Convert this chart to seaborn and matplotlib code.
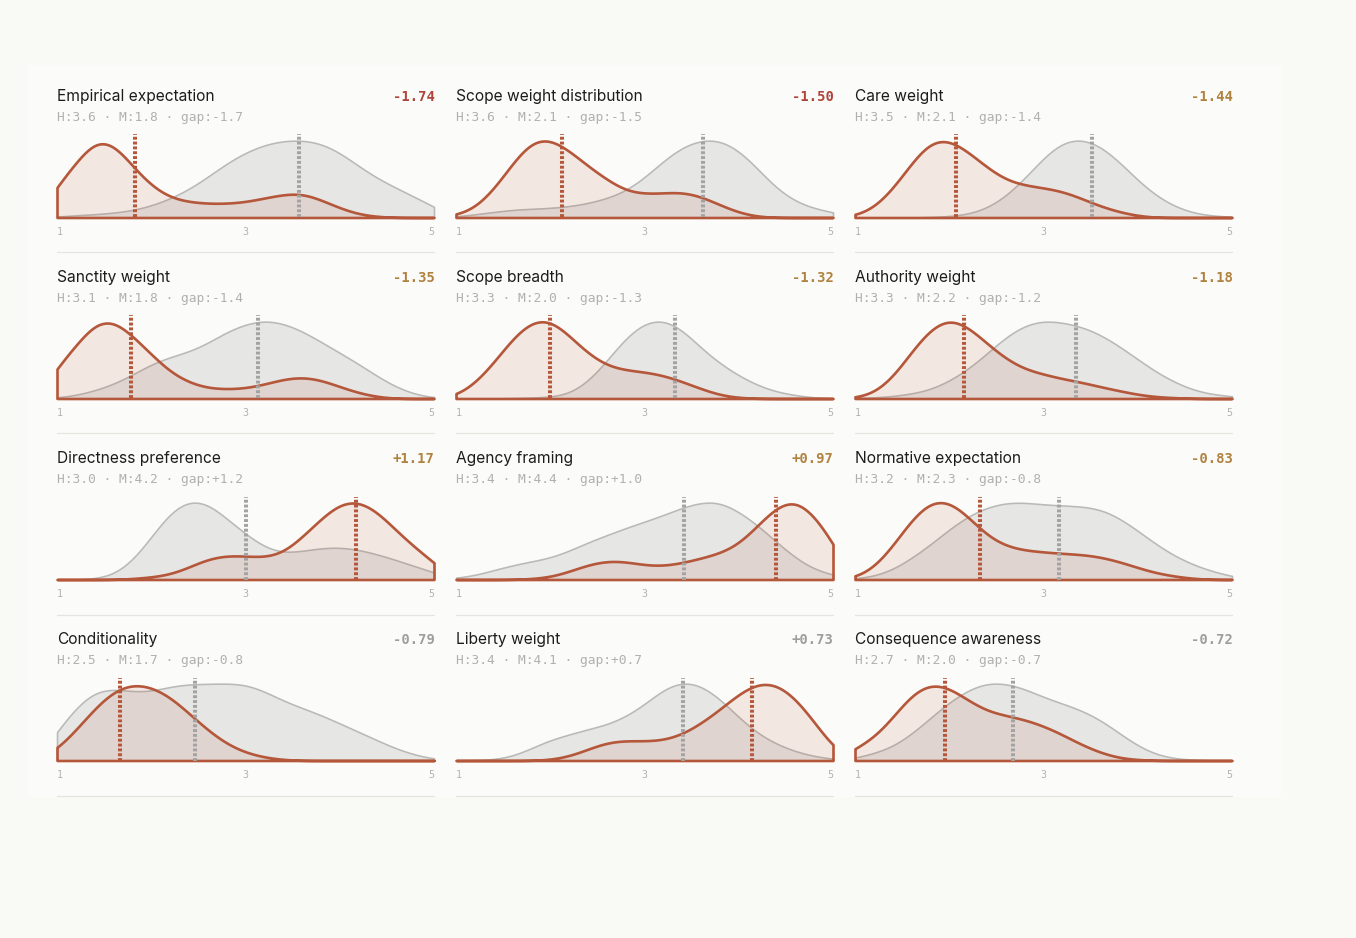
import numpy as np
import pandas as pd
import matplotlib
matplotlib.use("Agg")
import matplotlib.pyplot as plt
from matplotlib.lines import Line2D
from matplotlib.patches import Rectangle
import seaborn as sns

# ---------------------------------------------------------------- data
titles = ["Empirical expectation", "Scope weight distribution", "Care weight",
          "Sanctity weight", "Scope breadth", "Authority weight",
          "Directness preference", "Agency framing", "Normative expectation",
          "Conditionality", "Liberty weight", "Consequence awareness"]
human_means = [3.57, 3.62, 3.51, 3.13, 3.32, 3.34, 3.00, 3.42, 3.16, 2.46, 3.41, 2.68]
model_means = [1.83, 2.12, 2.07, 1.78, 2.00, 2.16, 4.17, 4.39, 2.33, 1.67, 4.14, 1.96]
gaps = [-1.74, -1.50, -1.44, -1.35, -1.32, -1.18, 1.17, 0.97, -0.83, -0.79, 0.73, -0.72]

# rating positions at which the density heights were read (1..5)
rating_grid = [1.0, 1.2, 1.4, 1.6, 1.8, 2.0, 2.2, 2.4, 2.6, 2.8, 3.0,
               3.2, 3.4, 3.6, 3.8, 4.0, 4.2, 4.4, 4.6, 4.8, 5.0]
tick_values = [1, 3, 5]
tick_labels = ["1", "3", "5"]

# relative density heights (peak = 1), human vs model
human_empirical = [0.01, 0.03, 0.04, 0.06, 0.09, 0.15, 0.24, 0.36, 0.52, 0.70, 0.84, 0.94, 0.99, 1.00, 0.96, 0.84, 0.66, 0.50, 0.38, 0.26, 0.14]
model_empirical = [0.41, 0.70, 1.02, 0.97, 0.66, 0.40, 0.25, 0.20, 0.18, 0.18, 0.20, 0.25, 0.30, 0.32, 0.23, 0.12, 0.04, 0.01, 0, 0, 0]
human_scope_dist = [0.01, 0.04, 0.07, 0.10, 0.11, 0.12, 0.14, 0.18, 0.24, 0.33, 0.50, 0.72, 0.90, 0.99, 0.99, 0.86, 0.62, 0.36, 0.20, 0.11, 0.07]
model_scope_dist = [0.03, 0.11, 0.35, 0.69, 0.99, 1.01, 0.85, 0.65, 0.48, 0.33, 0.30, 0.31, 0.33, 0.27, 0.16, 0.06, 0.01, 0, 0, 0, 0]
human_care = [0, 0, 0, 0, 0.005, 0.015, 0.04, 0.11, 0.26, 0.48, 0.75, 0.95, 0.99, 0.90, 0.70, 0.46, 0.26, 0.13, 0.05, 0.02, 0.01]
model_care = [0.02, 0.11, 0.35, 0.68, 0.97, 0.98, 0.82, 0.62, 0.46, 0.40, 0.37, 0.33, 0.24, 0.14, 0.07, 0.02, 0, 0, 0, 0, 0]
human_sanctity = [0.01, 0.04, 0.10, 0.18, 0.30, 0.44, 0.53, 0.59, 0.70, 0.85, 0.95, 1.00, 0.96, 0.86, 0.72, 0.58, 0.44, 0.28, 0.14, 0.05, 0.01]
model_sanctity = [0.40, 0.67, 0.98, 1.01, 0.80, 0.56, 0.33, 0.20, 0.13, 0.12, 0.13, 0.18, 0.25, 0.28, 0.24, 0.15, 0.07, 0.02, 0, 0, 0]
human_scope_breadth = [0, 0, 0, 0.005, 0.01, 0.02, 0.05, 0.20, 0.46, 0.76, 0.95, 0.99, 0.86, 0.62, 0.43, 0.28, 0.16, 0.08, 0.04, 0.01, 0]
model_scope_breadth = [0.03, 0.18, 0.44, 0.75, 0.97, 0.99, 0.78, 0.55, 0.40, 0.35, 0.33, 0.29, 0.21, 0.12, 0.04, 0.01, 0, 0, 0, 0, 0]
human_authority = [0.01, 0.01, 0.03, 0.06, 0.11, 0.22, 0.37, 0.57, 0.79, 0.94, 1.00, 0.97, 0.92, 0.82, 0.67, 0.50, 0.33, 0.20, 0.10, 0.05, 0.03]
model_authority = [0.01, 0.06, 0.26, 0.60, 0.90, 1.04, 0.92, 0.70, 0.50, 0.37, 0.31, 0.25, 0.21, 0.15, 0.10, 0.05, 0.02, 0.01, 0, 0, 0]
human_directness = [0, 0, 0.01, 0.05, 0.22, 0.52, 0.84, 0.99, 0.95, 0.75, 0.56, 0.39, 0.32, 0.35, 0.39, 0.40, 0.37, 0.31, 0.24, 0.16, 0.09]
model_directness = [0, 0, 0, 0, 0.01, 0.03, 0.06, 0.15, 0.26, 0.30, 0.29, 0.27, 0.32, 0.52, 0.75, 0.95, 0.98, 0.84, 0.60, 0.39, 0.21]
human_agency = [0.02, 0.05, 0.12, 0.18, 0.23, 0.27, 0.36, 0.47, 0.56, 0.65, 0.73, 0.81, 0.91, 0.98, 0.99, 0.86, 0.69, 0.47, 0.27, 0.12, 0.06]
model_agency = [0, 0, 0, 0, 0.01, 0.03, 0.10, 0.19, 0.24, 0.23, 0.18, 0.17, 0.21, 0.27, 0.33, 0.44, 0.68, 0.93, 1.03, 0.82, 0.47]
human_normative = [0.01, 0.04, 0.12, 0.27, 0.44, 0.64, 0.81, 0.92, 0.98, 0.98, 0.95, 0.94, 0.93, 0.90, 0.79, 0.62, 0.44, 0.29, 0.18, 0.10, 0.04]
model_normative = [0.02, 0.14, 0.42, 0.77, 1.01, 1.01, 0.80, 0.55, 0.42, 0.37, 0.35, 0.33, 0.32, 0.29, 0.23, 0.15, 0.08, 0.04, 0.01, 0, 0]
human_conditionality = [0.38, 0.69, 0.91, 0.93, 0.89, 0.89, 0.96, 0.99, 0.99, 1.00, 0.99, 0.90, 0.77, 0.68, 0.59, 0.48, 0.37, 0.26, 0.15, 0.07, 0.02]
model_conditionality = [0.14, 0.39, 0.68, 0.91, 1.00, 0.96, 0.83, 0.61, 0.39, 0.21, 0.10, 0.04, 0.01, 0, 0, 0, 0, 0, 0, 0, 0]
human_liberty = [0, 0.005, 0.01, 0.05, 0.15, 0.26, 0.32, 0.39, 0.44, 0.54, 0.69, 0.89, 0.99, 0.94, 0.77, 0.53, 0.33, 0.20, 0.11, 0.05, 0.02]
model_liberty = [0, 0, 0, 0, 0, 0.01, 0.05, 0.14, 0.23, 0.25, 0.24, 0.25, 0.32, 0.46, 0.63, 0.83, 0.97, 0.96, 0.78, 0.48, 0.15]
human_consequence = [0.03, 0.09, 0.17, 0.33, 0.54, 0.74, 0.90, 0.99, 0.98, 0.91, 0.80, 0.72, 0.64, 0.52, 0.35, 0.18, 0.07, 0.02, 0.01, 0, 0]
model_consequence = [0.15, 0.28, 0.54, 0.85, 0.99, 0.93, 0.76, 0.62, 0.57, 0.52, 0.44, 0.33, 0.20, 0.10, 0.03, 0.01, 0, 0, 0, 0, 0]

human_curves = [human_empirical, human_scope_dist, human_care, human_sanctity,
                human_scope_breadth, human_authority, human_directness, human_agency,
                human_normative, human_conditionality, human_liberty, human_consequence]
model_curves = [model_empirical, model_scope_dist, model_care, model_sanctity,
                model_scope_breadth, model_authority, model_directness, model_agency,
                model_normative, model_conditionality, model_liberty, model_consequence]

# ---------------------------------------------------------------- style
W, H = 1356, 938
BG = "#f9f9f6"
CARD = "#fbfbf9"
RUST = "#b5573a"
GREY_LINE = "#b9b9b7"
GREY_FILL = (0.70, 0.70, 0.70, 0.28)
RUST_FILL = (181 / 255, 87 / 255, 58 / 255, 0.12)
GREY_DASH = "#a3a3a3"
TITLE_C = "#1c1c1c"
SUB_C = "#b0b0b0"
TICK_C = "#b2b2b2"
SEP_C = "#e4e4e1"
RED_C = "#b1443a"
GOLD_C = "#b0823f"
NEUTRAL_C = "#9e9e9e"

sns.set_theme(style="white")
plt.rcParams["font.family"] = ["Inter", "DejaVu Sans"]
MONO = ["DejaVu Sans Mono"]

KERNEL_SD = 0.15


def kernel_width(kde):
    d = np.asarray(kde.dataset).ravel()
    sd = float(np.sqrt(np.cov(d, aweights=np.asarray(kde.weights))))
    return KERNEL_SD / sd


def fx(px):
    return px / W


def fy(py):
    return 1 - py / H


fig = plt.figure(figsize=(W / 100, H / 100), dpi=100, facecolor=BG)
fig.add_artist(Rectangle((fx(28), fy(797)), (1281 - 28) / W, (797 - 65) / H,
                         transform=fig.transFigure, facecolor=CARD,
                         edgecolor="none", zorder=-10))

COL_X0 = 57
COL_STEP = 399
PANEL_W = 377
ROW_BASE = 217.5
ROW_STEP = 181
PLOT_H = 83
DASH = (0, (0.72, 0.48))
DASH_LW = 2.9

for i, title in enumerate(titles):
    r, c = divmod(i, 3)
    x0 = COL_X0 + c * COL_STEP
    yb = ROW_BASE + r * ROW_STEP
    ax = fig.add_axes([fx(x0), fy(yb), PANEL_W / W, PLOT_H / H])
    ax.set_facecolor("none")

    df = pd.DataFrame({
        "rating": rating_grid * 2,
        "height": list(human_curves[i]) + list(model_curves[i]),
        "group": ["Human"] * len(rating_grid) + ["Model"] * len(rating_grid),
    })
    sns.kdeplot(data=df, x="rating", weights="height", hue="group",
                hue_order=["Model", "Human"],
                palette={"Human": GREY_LINE, "Model": RUST},
                fill=True, alpha=0.2, common_norm=True, clip=(1, 5),
                bw_method=kernel_width, gridsize=400, legend=False, ax=ax)

    ymax = 0
    for coll in ax.collections:
        ec = coll.get_edgecolor()[0]
        is_model = abs(ec[0] - 181 / 255) < 0.05 and abs(ec[1] - 87 / 255) < 0.05
        if is_model:
            coll.set_facecolor(RUST_FILL)
            coll.set_linewidth(1.9)
            coll.set_zorder(3)
        else:
            coll.set_facecolor(GREY_FILL)
            coll.set_linewidth(1.15)
            coll.set_zorder(2)
        coll.set_clip_on(False)
        for p in coll.get_paths():
            ymax = max(ymax, p.vertices[:, 1].max())

    ax.set_xlim(1, 5)
    ax.set_ylim(0, ymax * 1.08)

    ax.axvline(human_means[i], ymin=0, ymax=1, color=GREY_DASH, lw=DASH_LW,
               linestyle=DASH, dash_capstyle="butt", zorder=5)
    ax.axvline(model_means[i], ymin=0, ymax=1, color=RUST, lw=DASH_LW,
               linestyle=DASH, dash_capstyle="butt", zorder=6)

    ax.set_yticks([])
    ax.set_xticks(tick_values)
    ax.set_xticklabels(tick_labels, fontfamily=MONO, fontsize=7.2, color=TICK_C)
    labs = ax.get_xticklabels()
    labs[0].set_ha("left")
    labs[-1].set_ha("right")
    ax.tick_params(axis="x", length=0, pad=7)
    ax.set_xlabel("")
    ax.set_ylabel("")
    for s in ax.spines.values():
        s.set_visible(False)

    # texts
    fig.text(fx(x0), fy(yb - 116.5), title, fontsize=11.2, color=TITLE_C,
             ha="left", va="baseline")
    sub = (f"H:{human_means[i]:.1f} \u00b7 M:{model_means[i]:.1f} \u00b7 "
           f"gap:{gaps[i]:+.1f}")
    fig.text(fx(x0), fy(yb - 96.8), sub, fontsize=9.3, color=SUB_C,
             family=MONO, ha="left", va="baseline")
    g = gaps[i]
    gc = RED_C if abs(g) >= 1.5 else (GOLD_C if abs(g) >= 0.8 else NEUTRAL_C)
    fig.text(fx(x0 + PANEL_W + 0.5), fy(yb - 116.5), f"{g:+.2f}", fontsize=10,
             color=gc, family=MONO, fontweight="bold", ha="right", va="baseline")

    # separator
    fig.add_artist(Line2D([fx(x0), fx(x0 + PANEL_W)], [fy(yb + 35), fy(yb + 35)],
                          transform=fig.transFigure, color=SEP_C, lw=0.9))

fig.savefig("out.png", dpi=100, facecolor=BG)
